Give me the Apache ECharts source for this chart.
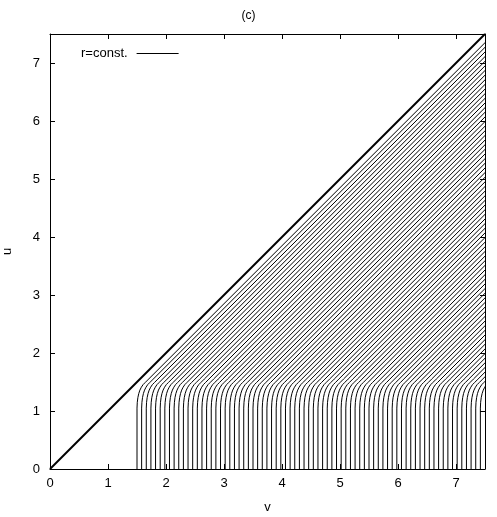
<!DOCTYPE html>
<html>
<head>
<meta charset="utf-8">
<script src="https://cdn.jsdelivr.net/npm/echarts@6/dist/echarts.min.js"></script>
<style>
  html, body { margin: 0; padding: 0; background: #fff; }
  #chart { width: 497px; height: 517px; }
</style>
</head>
<body>
<div id="chart"></div>
<script>
// starting points v0 of the r=const. curves on u=0
var startV = [1.50,1.58,1.66,1.74,1.82,1.90,1.98,2.06,2.14,2.22,2.30,2.38,2.46,2.54,2.62,2.70,2.78,2.86,2.94,3.02,
  3.10,3.18,3.26,3.34,3.42,3.50,3.58,3.66,3.74,3.82,3.90,3.98,4.06,4.14,4.22,4.30,4.38,4.46,4.54,4.62,
  4.70,4.78,4.86,4.94,5.02,5.10,5.18,5.26,5.34,5.42,5.50,5.58,5.66,5.74,5.82,5.90,5.98,6.06,6.14,6.22,
  6.30,6.38,6.46,6.54,6.62,6.70,6.78,6.86,6.94,7.02,7.10,7.18,7.26,7.34,7.42];
// shape of one curve: offset in v from v0, and u
var shapeDv = [0, 0, 0.005, 0.015, 0.03, 0.05, 0.075, 0.105, 0.14, 0.2, 6.2];
var shapeU  = [0, 1.05, 1.15, 1.23, 1.30, 1.36, 1.41, 1.455, 1.49, 1.55, 7.55];
// the diagonal u = v
var diagV = [0, 7.5];
var diagU = [0, 7.5];
var xTicks = [0, 1, 2, 3, 4, 5, 6, 7];
var yTicks = [0, 1, 2, 3, 4, 5, 6, 7];

var chart = echarts.init(document.getElementById('chart'));

var series = [];
startV.forEach(function (v0) {
  var pts = [];
  for (var i = 0; i < shapeDv.length; i++) {
    pts.push([v0 + shapeDv[i], shapeU[i]]);
  }
  series.push({
    name: 'r=const.',
    type: 'line',
    symbol: 'none',
    silent: true,
    lineStyle: { color: '#000', width: 1 },
    itemStyle: { color: '#000' },
    data: pts
  });
});
series.push({
  name: 'diag',
  type: 'line',
  symbol: 'none',
  silent: true,
  lineStyle: { color: '#000', width: 2 },
  data: diagV.map(function (v, i) { return [v, diagU[i]]; })
});

var font = 'Liberation Sans, Arial, sans-serif';
var tickStyle = { show: true, inside: true, length: 5, lineStyle: { color: '#000', width: 1 } };

var option = {
  animation: false,
  backgroundColor: '#fff',
  title: {
    text: '(c)',
    left: 'center',
    top: 5,
    textStyle: { fontFamily: font, fontSize: 12, fontWeight: 'normal', color: '#000' }
  },
  legend: {
    data: ['r=const.'],
    left: 76,
    top: 42,
    align: 'right',
    icon: 'rect',
    itemWidth: 42,
    itemHeight: 1,
    itemGap: 5,
    textStyle: { fontFamily: font, fontSize: 13, color: '#000', padding: [0, 4, 0, 0] }
  },
  grid: { left: 50, right: 12, top: 34, bottom: 48, outerBoundsMode: 'none', containLabel: false },
  xAxis: [{
    type: 'value',
    min: 0,
    max: 7.5,
    interval: 1,
    name: 'v',
    nameLocation: 'middle',
    nameGap: 32,
    nameTextStyle: { fontFamily: font, fontSize: 13, color: '#000' },
    axisLine: { show: true, onZero: false, lineStyle: { color: '#000', width: 1 } },
    axisTick: tickStyle,
    splitLine: { show: false },
    axisLabel: {
      fontFamily: font, fontSize: 13, color: '#000', margin: 8,
      formatter: function (v) { return xTicks.indexOf(v) >= 0 ? String(v) : ''; }
    }
  }, {
    type: 'value',
    position: 'top',
    min: 0,
    max: 7.5,
    interval: 1,
    axisLine: { show: true, onZero: false, lineStyle: { color: '#000', width: 1 } },
    axisTick: tickStyle,
    splitLine: { show: false },
    axisLabel: { show: false }
  }],
  yAxis: [{
    type: 'value',
    min: 0,
    max: 7.5,
    interval: 1,
    name: 'u',
    nameLocation: 'middle',
    nameGap: 36,
    nameTextStyle: { fontFamily: font, fontSize: 13, color: '#000' },
    axisLine: { show: true, onZero: false, lineStyle: { color: '#000', width: 1 } },
    axisTick: tickStyle,
    splitLine: { show: false },
    axisLabel: {
      fontFamily: font, fontSize: 13, color: '#000', margin: 10,
      formatter: function (v) { return yTicks.indexOf(v) >= 0 ? String(v) : ''; }
    }
  }, {
    type: 'value',
    position: 'right',
    min: 0,
    max: 7.5,
    interval: 1,
    axisLine: { show: true, onZero: false, lineStyle: { color: '#000', width: 1 } },
    axisTick: tickStyle,
    splitLine: { show: false },
    axisLabel: { show: false }
  }],
  series: series
};

chart.setOption(option);
</script>
</body>
</html>
